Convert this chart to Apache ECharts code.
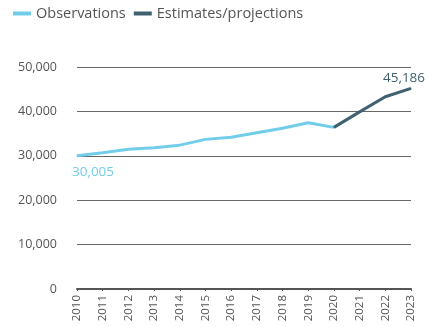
<!DOCTYPE html>
<html>
<head>
<meta charset="utf-8">
<script src="https://cdn.jsdelivr.net/npm/echarts@6/dist/echarts.min.js"></script>
<style>
  html, body { margin: 0; padding: 0; background: #fff; }
  #chart { width: 427px; height: 327px; }
</style>
</head>
<body>
<div id="chart"></div>
<script>
// Years on the x axis
const years = ['2010','2011','2012','2013','2014','2015','2016','2017','2018','2019','2020','2021','2022','2023'];
// Observed values (2010–2020)
const observations = [30005, 30700, 31500, 31800, 32400, 33700, 34200, 35200, 36200, 37450, 36400, null, null, null];
// Estimates and projections (2020–2023)
const estimates = [null, null, null, null, null, null, null, null, null, null, 36400, 39900, 43300, 45186];

const lightBlue = '#72cdea';
const slate = '#3f6170';
const fontFamily = '"Open Sans", "Noto Sans", sans-serif';

const chart = echarts.init(document.getElementById('chart'), null, { renderer: 'canvas' });

// Value label shown on a single point of a series
function pointLabel(color, position, idx) {
  return {
    show: true,
    position: position,
    color: color,
    fontFamily: fontFamily,
    fontSize: 13.5,
    formatter: p => (p.dataIndex === idx ? Number(p.value).toLocaleString('en-US') : '')
  };
}

chart.setOption({
  animation: false,
  textStyle: { fontFamily: fontFamily },
  legend: {
    left: 8,
    top: 1,
    itemWidth: 18,
    itemHeight: 4,
    itemGap: 8,
    icon: 'rect',
    textStyle: { color: '#555', fontSize: 14.5, fontFamily: fontFamily },
    data: ['Observations', 'Estimates/projections']
  },
  grid: { left: 77, right: 16, top: 67, bottom: 38 },
  xAxis: {
    type: 'category',
    data: years,
    boundaryGap: false,
    axisLine: { lineStyle: { color: '#555', width: 2 } },
    axisTick: { show: true, length: 2, lineStyle: { color: '#555' } },
    axisLabel: { rotate: 90, color: '#555', fontSize: 11.5, margin: 6, interval: 0 }
  },
  yAxis: {
    type: 'value',
    min: 0,
    max: 50000,
    interval: 10000,
    axisLine: { show: false },
    axisTick: { show: false },
    splitLine: { lineStyle: { color: '#666', width: 1 } },
    axisLabel: {
      color: '#555',
      fontSize: 12.5,
      margin: 20,
      formatter: v => v.toLocaleString('en-US')
    }
  },
  series: [
    {
      name: 'Observations',
      type: 'line',
      data: observations,
      symbol: 'circle',
      symbolSize: 1,
      showSymbol: true,
      lineStyle: { color: lightBlue, width: 3 },
      itemStyle: { color: lightBlue },
      label: pointLabel(lightBlue, 'bottom', 0),
      labelLayout: { dx: 16, dy: 4 },
      z: 3
    },
    {
      name: 'Estimates/projections',
      type: 'line',
      data: estimates,
      symbol: 'circle',
      symbolSize: 1,
      showSymbol: true,
      lineStyle: { color: slate, width: 3 },
      itemStyle: { color: slate },
      label: pointLabel(slate, 'top', 13),
      labelLayout: { dx: -7, dy: 2 },
      z: 4
    }
  ]
});
</script>
</body>
</html>
